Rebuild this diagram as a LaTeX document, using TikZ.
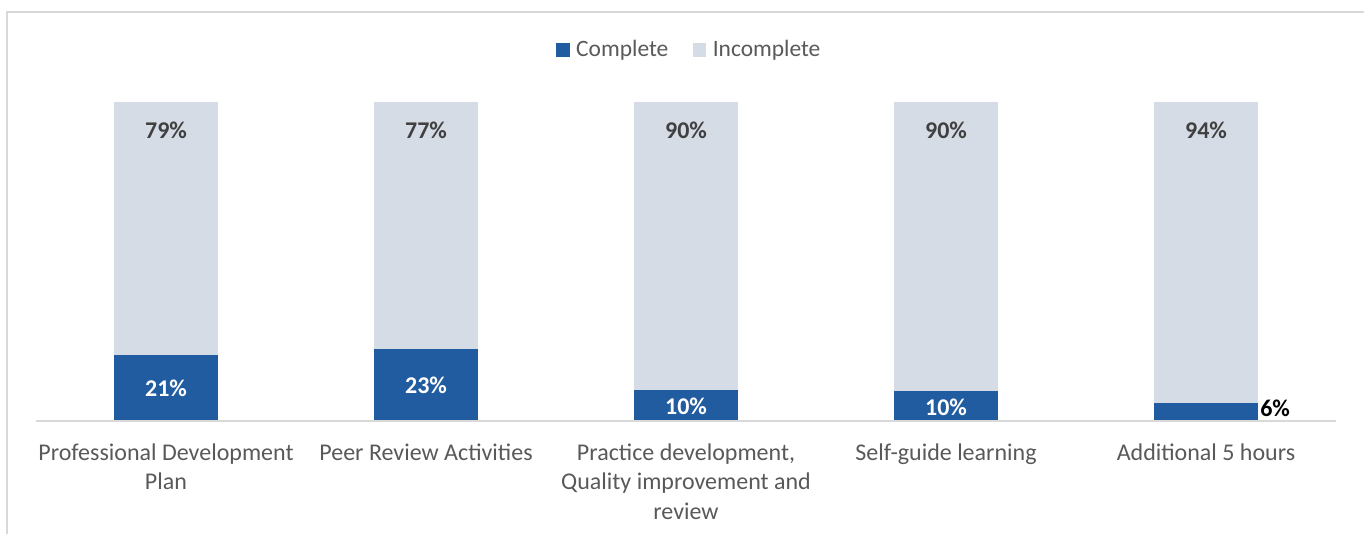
\documentclass[tikz,border=0pt]{standalone}
\usepackage{fontspec}
\setmainfont{Carlito}
\usetikzlibrary{positioning}
\definecolor{done}{RGB}{33,92,160}
\definecolor{todo}{RGB}{214,220,229}
\definecolor{framegray}{RGB}{217,217,217}
\definecolor{labelgray}{RGB}{89,89,89}
\definecolor{pctgray}{RGB}{64,64,64}

\begin{document}
\begin{tikzpicture}[x=0.75pt, y=-0.75pt, font=\fontsize{18}{21.8}\selectfont,
    pct/.style={inner sep=0pt, font=\fontsize{18}{21.8}\selectfont\bfseries},
    cat/.style={inner sep=0pt, anchor=north, align=center, text=labelgray},
    legbox/.style={draw=none, minimum size=10pt, inner sep=0pt},
    legtext/.style={inner sep=0pt, text=labelgray, font=\fontsize{17.6}{21}\selectfont}]

                \useasboundingbox (0,0) rectangle (1364,534);

                % chart frame
                \draw[framegray, line width=1.5pt] (7,534) -- (7,12) -- (1364,12);

                % legend
                \node[legbox, fill=done] (kdone) at (563,50) {};
                \node[legtext, right=4.5pt of kdone] (tdone) {Complete};
                \node[legbox, fill=todo, right=18pt of tdone] (ktodo) {};
                \node[legtext, right=4.5pt of ktodo] (ttodo) {Incomplete};

                % bars
                \fill[todo] (114,102) rectangle (218,421);
                \fill[done] (114,355) rectangle (218,421);
                \fill[todo] (374,102) rectangle (478,421);
                \fill[done] (374,349) rectangle (478,421);
                \fill[todo] (634,102) rectangle (738,421);
                \fill[done] (634,390) rectangle (738,421);
                \fill[todo] (894,102) rectangle (998,421);
                \fill[done] (894,391) rectangle (998,421);
                \fill[todo] (1154,102) rectangle (1258,421);
                \fill[done] (1154,403) rectangle (1258,421);

                % axis
                \draw[framegray, line width=1.2pt] (36,421) -- (1336,421);

                % values
                \node[pct, text=pctgray] (A1) at (166,130) {79\%};
                \node[pct, text=white] (A2) at (166,388) {21\%};
                \node[pct, text=pctgray] (B1) at (426,130) {77\%};
                \node[pct, text=white] (B2) at (426,385) {23\%};
                \node[pct, text=pctgray] (C1) at (686,130) {90\%};
                \node[pct, text=white] (C2) at (686,406) {10\%};
                \node[pct, text=pctgray] (D1) at (946,130) {90\%};
                \node[pct, text=white] (D2) at (946,407) {10\%};
                \node[pct, text=pctgray] (E1) at (1206,130) {94\%};
                \node[pct, text=black, anchor=west] (E2) at (1260,408) {6\%};

                % categories
                \node[cat] (A) at (166,444) {Professional Development\\Plan};
                \node[cat] (B) at (426,444) {Peer Review Activities};
                \node[cat] (C) at (686,444) {Practice development,\\Quality improvement and\\review};
                \node[cat] (D) at (946,444) {Self-guide learning};
                \node[cat] (E) at (1206,444) {Additional 5 hours};

\end{tikzpicture}
\end{document}
